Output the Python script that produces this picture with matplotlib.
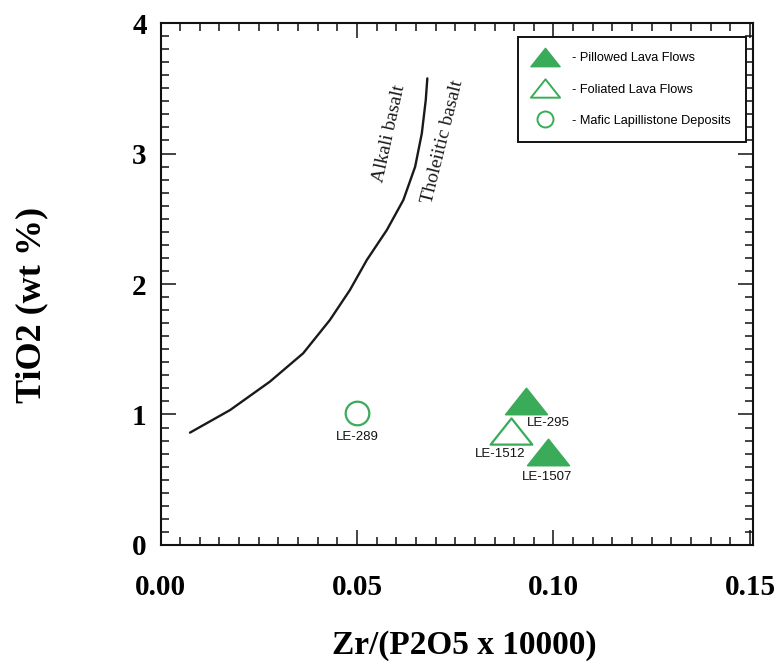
import matplotlib

matplotlib.use("Agg")

import matplotlib.pyplot as plt
from matplotlib.lines import Line2D
from matplotlib.path import Path
from matplotlib.ticker import MultipleLocator

# Alkali / tholeiitic basalt dividing line
boundary_x = [0.0075, 0.0177, 0.0278, 0.0363, 0.0431, 0.0482, 0.0525,
              0.0576, 0.0618, 0.0648, 0.0665, 0.0675, 0.0679]
boundary_y = [0.861, 1.034, 1.251, 1.469, 1.724, 1.954, 2.184,
              2.414, 2.644, 2.899, 3.155, 3.410, 3.576]

# Samples by unit
pillowed_x = [0.093, 0.0986]
pillowed_y = [1.105, 0.716]
pillowed_names = ["LE-295", "LE-1507"]

foliated_x = [0.0892]
foliated_y = [0.87]
foliated_names = ["LE-1512"]

mafic_x = [0.050]
mafic_y = [1.01]
mafic_names = ["LE-289"]

x_ticks = [0.00, 0.05, 0.10, 0.15]
y_ticks = [0, 1, 2, 3, 4]

GREEN = "#3aab58"
SERIF = "Liberation Serif"
SANS = "Liberation Sans"

# wide, flat triangle (closed so the open marker gets all three edges)
tri = Path([(-1.0, -0.63), (1.0, -0.63), (0.0, 0.63), (-1.0, -0.63)], closed=True)

fig = plt.figure(figsize=(7.83, 6.70), dpi=100)
ax = fig.add_axes([0.205, 0.1866, 0.7563, 0.779])

ax.plot(boundary_x, boundary_y, color="#1a1a1a", lw=1.7, solid_capstyle="round")

ax.plot(pillowed_x, pillowed_y, ls="none", marker=tri, ms=30,
        mfc=GREEN, mec=GREEN, mew=1.2)
ax.plot(foliated_x, foliated_y, ls="none", marker=tri, ms=30,
        mfc="white", mec=GREEN, mew=1.6)
ax.plot(mafic_x, mafic_y, ls="none", marker="o", ms=17,
        mfc="white", mec=GREEN, mew=1.6)

label_offsets = {
    "LE-295": (16, -16),
    "LE-1507": (-1, -18),
    "LE-1512": (-8, -16),
    "LE-289": (0, -17),
}
for xs, ys, names in [(pillowed_x, pillowed_y, pillowed_names),
                      (foliated_x, foliated_y, foliated_names),
                      (mafic_x, mafic_y, mafic_names)]:
    for x, y, name in zip(xs, ys, names):
        ax.annotate(name, (x, y), xytext=label_offsets[name],
                    textcoords="offset points", ha="center", va="center",
                    fontsize=9.5, family=SANS, color="#111111")

ax.text(0.0582, 3.15, "Alkali basalt", rotation=77.5, ha="center", va="center",
        fontsize=14, family=SERIF, style="normal", color="#1a1a1a")
ax.text(0.0718, 3.09, "Tholeiitic basalt", rotation=76, ha="center", va="center",
        fontsize=14, family=SERIF, style="normal", color="#1a1a1a")

ax.set_xlim(0, 0.1507)
ax.set_ylim(0, 4)
ax.set_xticks(x_ticks)
ax.set_yticks(y_ticks)
ax.set_xticklabels([f"{t:.2f}" for t in x_ticks])
ax.set_yticklabels([str(t) for t in y_ticks])
ax.xaxis.set_minor_locator(MultipleLocator(0.005))
ax.yaxis.set_minor_locator(MultipleLocator(0.1))
ax.tick_params(which="both", direction="in", top=True, right=True,
               color="#111111", width=1.1)
ax.tick_params(which="major", length=11)
ax.tick_params(which="minor", length=5.5)
ax.tick_params(axis="x", which="major", pad=21)
ax.tick_params(axis="y", which="major", pad=10)
for lab in ax.get_xticklabels() + ax.get_yticklabels():
    lab.set_family(SERIF)
    lab.set_fontweight("bold")
    lab.set_fontsize(21)
for side in ax.spines.values():
    side.set_linewidth(1.5)
    side.set_color("#111111")

ax.set_xlabel("Zr/(P2O5 x 10000)", family=SERIF, fontweight="bold", fontsize=24)
ax.set_ylabel("TiO2 (wt %)", family=SERIF, fontweight="bold", fontsize=26)
ax.xaxis.set_label_coords(0.5125, -0.162)
ax.yaxis.set_label_coords(-0.19, 0.46)

handles = [
    Line2D([], [], ls="none", marker=tri, ms=21, mfc=GREEN, mec=GREEN, mew=1.0),
    Line2D([], [], ls="none", marker=tri, ms=21, mfc="white", mec=GREEN, mew=1.4),
    Line2D([], [], ls="none", marker="o", ms=11.5, mfc="white", mec=GREEN, mew=1.4),
]
names = ["- Pillowed Lava Flows", "- Foliated Lava Flows",
         "- Mafic Lapillistone Deposits"]
leg = ax.legend(handles, names, loc="upper right", bbox_to_anchor=(0.989, 0.973),
                borderaxespad=0, frameon=True, fancybox=False, framealpha=1,
                edgecolor="#111111", borderpad=1.2, labelspacing=1.5,
                handlelength=1.75, handletextpad=1.25,
                prop={"family": SANS, "size": 9.2})
leg.get_frame().set_linewidth(1.4)

fig.savefig("out.png", dpi=100)
